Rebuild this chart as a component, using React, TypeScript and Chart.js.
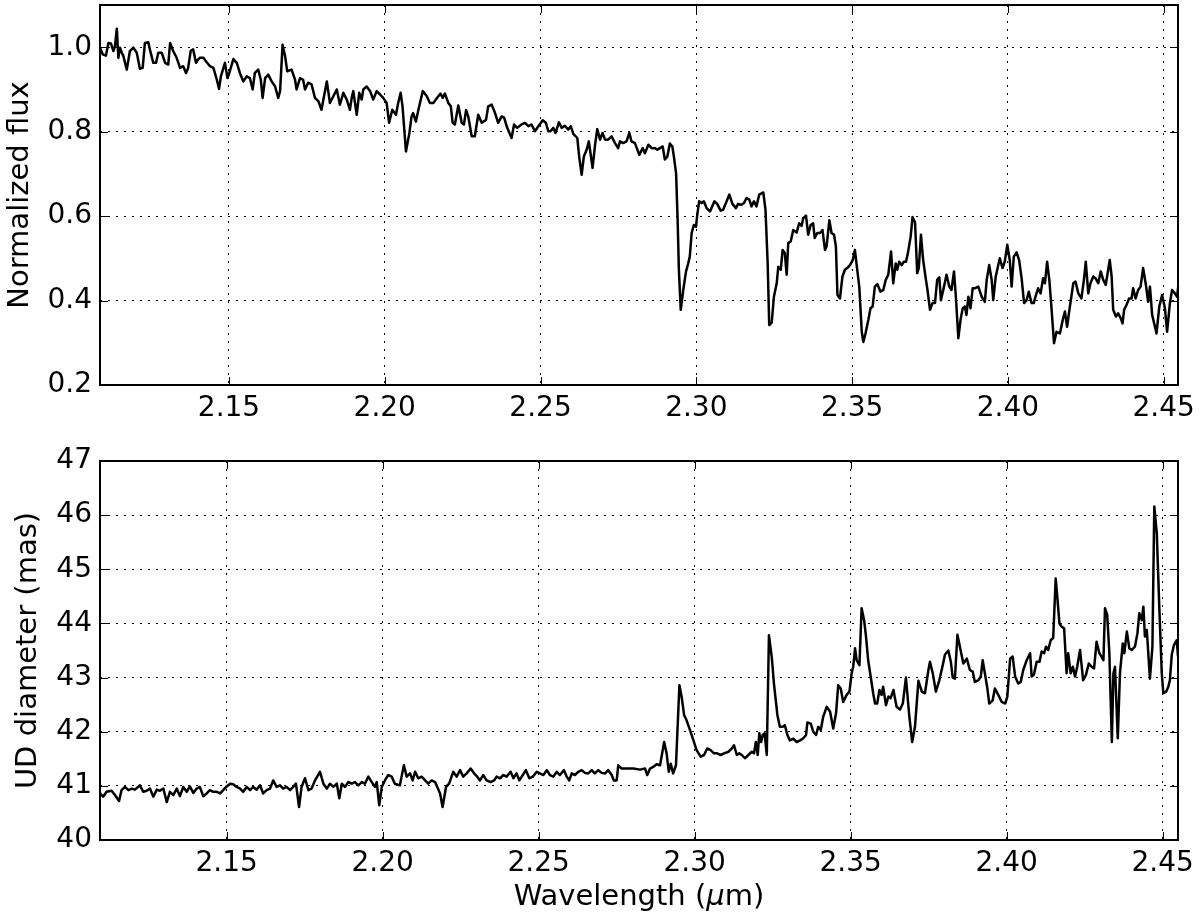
import React, { useEffect, useRef } from "react";
import { Chart, registerables } from "chart.js";

Chart.register(...registerables);

// ---------- data ----------
const TOP_WL = [
  2.1086, 2.1095, 2.1105, 2.1113, 2.1121, 2.1129, 2.1134, 2.1140, 2.1145, 2.1150, 2.1156, 2.1161, 2.1172, 2.1182, 2.1193, 2.1204,
  2.1214, 2.1223, 2.1230, 2.1241, 2.1246, 2.1257, 2.1266, 2.1273, 2.1284, 2.1295, 2.1305, 2.1311, 2.1321, 2.1332, 2.1343, 2.1353,
  2.1362, 2.1369, 2.1377, 2.1385, 2.1394, 2.1401, 2.1407, 2.1418, 2.1426, 2.1439, 2.1450, 2.1461, 2.1468, 2.1474, 2.1487, 2.1495,
  2.1501, 2.1514, 2.1525, 2.1535, 2.1546, 2.1557, 2.1567, 2.1576, 2.1583, 2.1594, 2.1602, 2.1608, 2.1616, 2.1626, 2.1637, 2.1648,
  2.1658, 2.1664, 2.1672, 2.1680, 2.1687, 2.1701, 2.1712, 2.1717, 2.1728, 2.1738, 2.1744, 2.1754, 2.1765, 2.1776, 2.1787, 2.1797,
  2.1805, 2.1814, 2.1824, 2.1835, 2.1846, 2.1856, 2.1867, 2.1878, 2.1888, 2.1894, 2.1899, 2.1910, 2.1918, 2.1926, 2.1931, 2.1942,
  2.1953, 2.1963, 2.1974, 2.1985, 2.1995, 2.2006, 2.2014, 2.2024, 2.2036, 2.2043, 2.2051, 2.2057, 2.2068, 2.2079, 2.2086, 2.2091,
  2.2100, 2.2108, 2.2122, 2.2134, 2.2145, 2.2156, 2.2164, 2.2172, 2.2179, 2.2186, 2.2193, 2.2204, 2.2212, 2.2218, 2.2225, 2.2236,
  2.2247, 2.2254, 2.2261, 2.2268, 2.2279, 2.2289, 2.2300, 2.2311, 2.2325, 2.2332, 2.2343, 2.2354, 2.2364, 2.2375, 2.2383, 2.2393,
  2.2407, 2.2415, 2.2425, 2.2439, 2.2450, 2.2461, 2.2471, 2.2482, 2.2493, 2.2507, 2.2517, 2.2525, 2.2532, 2.2541, 2.2548, 2.2559,
  2.2568, 2.2578, 2.2589, 2.2597, 2.2605, 2.2618, 2.2624, 2.2632, 2.2639, 2.2648, 2.2655, 2.2667, 2.2675, 2.2682, 2.2691, 2.2699,
  2.2707, 2.2717, 2.2728, 2.2739, 2.2749, 2.2755, 2.2765, 2.2776, 2.2785, 2.2792, 2.2803, 2.2817, 2.2828, 2.2835, 2.2846, 2.2857,
  2.2867, 2.2875, 2.2883, 2.2892, 2.2899, 2.2907, 2.2915, 2.2923, 2.2928, 2.2935, 2.2940, 2.2944, 2.2950, 2.2958, 2.2967, 2.2974,
  2.2979, 2.2985, 2.2992, 2.2999, 2.3003, 2.3009, 2.3017, 2.3024, 2.3033, 2.3044, 2.3058, 2.3067, 2.3078, 2.3086, 2.3095, 2.3106,
  2.3116, 2.3127, 2.3134, 2.3145, 2.3153, 2.3161, 2.3170, 2.3177, 2.3185, 2.3193, 2.3202, 2.3215, 2.3222, 2.3229, 2.3234, 2.3242,
  2.3249, 2.3258, 2.3263, 2.3271, 2.3277, 2.3284, 2.3290, 2.3295, 2.3303, 2.3311, 2.3322, 2.3330, 2.3338, 2.3343, 2.3352, 2.3359,
  2.3367, 2.3375, 2.3380, 2.3388, 2.3397, 2.3405, 2.3413, 2.3418, 2.3427, 2.3434, 2.3442, 2.3448, 2.3453, 2.3461, 2.3469, 2.3477,
  2.3484, 2.3493, 2.3502, 2.3509, 2.3514, 2.3523, 2.3531, 2.3536, 2.3543, 2.3552, 2.3559, 2.3566, 2.3573, 2.3581, 2.3591, 2.3600,
  2.3608, 2.3616, 2.3625, 2.3632, 2.3640, 2.3645, 2.3651, 2.3659, 2.3666, 2.3673, 2.3680, 2.3688, 2.3694, 2.3702, 2.3709, 2.3714,
  2.3721, 2.3728, 2.3737, 2.3742, 2.3750, 2.3758, 2.3766, 2.3773, 2.3780, 2.3785, 2.3795, 2.3803, 2.3812, 2.3819, 2.3827, 2.3833,
  2.3841, 2.3848, 2.3855, 2.3862, 2.3867, 2.3873, 2.3880, 2.3887, 2.3894, 2.3905, 2.3916, 2.3926, 2.3932, 2.3940, 2.3948, 2.3953,
  2.3961, 2.3967, 2.3974, 2.3983, 2.3990, 2.3998, 2.4006, 2.4012, 2.4019, 2.4028, 2.4036, 2.4044, 2.4052, 2.4060, 2.4067, 2.4076,
  2.4083, 2.4090, 2.4097, 2.4105, 2.4113, 2.4119, 2.4126, 2.4133, 2.4140, 2.4148, 2.4156, 2.4167, 2.4176, 2.4183, 2.4190, 2.4199,
  2.4210, 2.4217, 2.4226, 2.4236, 2.4244, 2.4250, 2.4258, 2.4265, 2.4274, 2.4281, 2.4290, 2.4298, 2.4306, 2.4314, 2.4327, 2.4333,
  2.4338, 2.4347, 2.4354, 2.4362, 2.4368, 2.4373, 2.4381, 2.4389, 2.4397, 2.4402, 2.4410, 2.4418, 2.4426, 2.4434, 2.4443, 2.4450,
  2.4456, 2.4463, 2.4472, 2.4477, 2.4486, 2.4495, 2.4504, 2.4511, 2.4520, 2.4527, 2.4536, 2.4543, 2.4548,
];

const TOP_FLUX = [
  0.999, 0.983, 0.980, 1.010, 1.009, 0.991, 1.002, 1.044, 0.975, 0.999, 0.987, 0.979, 0.947, 0.991, 0.999, 0.987,
  0.949, 0.951, 1.010, 1.012, 0.995, 0.963, 0.963, 0.987, 0.987, 0.963, 0.959, 1.010, 0.991, 0.975, 0.951, 0.955,
  0.939, 0.951, 0.991, 0.995, 0.963, 0.971, 0.975, 0.975, 0.967, 0.955, 0.951, 0.923, 0.901, 0.931, 0.963, 0.927,
  0.939, 0.972, 0.963, 0.939, 0.919, 0.931, 0.927, 0.900, 0.939, 0.947, 0.923, 0.880, 0.927, 0.935, 0.919, 0.907,
  0.880, 0.896, 1.006, 0.979, 0.943, 0.947, 0.923, 0.900, 0.927, 0.923, 0.900, 0.916, 0.912, 0.880, 0.872, 0.852,
  0.884, 0.919, 0.868, 0.884, 0.900, 0.864, 0.892, 0.876, 0.852, 0.880, 0.896, 0.840, 0.892, 0.876, 0.900, 0.907,
  0.896, 0.876, 0.896, 0.888, 0.880, 0.868, 0.821, 0.852, 0.840, 0.868, 0.892, 0.860, 0.753, 0.797, 0.836, 0.844,
  0.824, 0.852, 0.896, 0.885, 0.868, 0.868, 0.876, 0.884, 0.890, 0.880, 0.890, 0.868, 0.860, 0.821, 0.817, 0.862,
  0.821, 0.817, 0.851, 0.836, 0.789, 0.789, 0.840, 0.821, 0.828, 0.860, 0.864, 0.844, 0.821, 0.836, 0.833, 0.809,
  0.785, 0.817, 0.809, 0.817, 0.821, 0.813, 0.817, 0.801, 0.813, 0.827, 0.821, 0.801, 0.801, 0.809, 0.797, 0.822,
  0.809, 0.814, 0.805, 0.813, 0.795, 0.785, 0.741, 0.698, 0.741, 0.757, 0.777, 0.714, 0.769, 0.806, 0.781, 0.797,
  0.781, 0.781, 0.789, 0.773, 0.761, 0.777, 0.773, 0.777, 0.797, 0.777, 0.773, 0.745, 0.761, 0.749, 0.769, 0.761,
  0.761, 0.757, 0.761, 0.765, 0.734, 0.741, 0.772, 0.765, 0.741, 0.702, 0.591, 0.473, 0.378, 0.425, 0.469, 0.488,
  0.504, 0.560, 0.579, 0.575, 0.603, 0.635, 0.631, 0.635, 0.619, 0.611, 0.635, 0.629, 0.613, 0.615, 0.631, 0.651,
  0.629, 0.619, 0.629, 0.627, 0.631, 0.643, 0.639, 0.623, 0.635, 0.623, 0.651, 0.656, 0.615, 0.488, 0.342, 0.348,
  0.409, 0.441, 0.480, 0.473, 0.520, 0.512, 0.461, 0.536, 0.540, 0.567, 0.561, 0.583, 0.577, 0.595, 0.601, 0.556,
  0.579, 0.583, 0.548, 0.560, 0.560, 0.567, 0.520, 0.528, 0.590, 0.560, 0.556, 0.528, 0.413, 0.405, 0.457, 0.473,
  0.477, 0.484, 0.496, 0.520, 0.488, 0.433, 0.326, 0.302, 0.322, 0.354, 0.382, 0.386, 0.433, 0.439, 0.421, 0.425,
  0.449, 0.461, 0.516, 0.441, 0.488, 0.473, 0.492, 0.484, 0.492, 0.492, 0.516, 0.552, 0.598, 0.585, 0.465, 0.477,
  0.556, 0.496, 0.449, 0.425, 0.378, 0.394, 0.394, 0.449, 0.455, 0.401, 0.433, 0.461, 0.433, 0.425, 0.469, 0.409,
  0.311, 0.354, 0.382, 0.386, 0.366, 0.409, 0.382, 0.429, 0.429, 0.433, 0.409, 0.397, 0.449, 0.484, 0.449, 0.401,
  0.457, 0.477, 0.500, 0.477, 0.492, 0.532, 0.496, 0.433, 0.504, 0.514, 0.496, 0.453, 0.394, 0.401, 0.421, 0.394,
  0.394, 0.413, 0.429, 0.417, 0.453, 0.441, 0.492, 0.449, 0.382, 0.299, 0.326, 0.322, 0.354, 0.374, 0.338, 0.386,
  0.441, 0.445, 0.417, 0.405, 0.449, 0.492, 0.417, 0.441, 0.457, 0.453, 0.441, 0.469, 0.449, 0.437, 0.496, 0.457,
  0.378, 0.362, 0.370, 0.358, 0.346, 0.378, 0.390, 0.405, 0.405, 0.429, 0.405, 0.425, 0.433, 0.477, 0.437, 0.397,
  0.433, 0.366, 0.338, 0.322, 0.386, 0.413, 0.382, 0.326, 0.394, 0.425, 0.417, 0.409, 0.441,
];

const BOT_WL = [
  2.1094, 2.1104, 2.1115, 2.1131, 2.1142, 2.1155, 2.1163, 2.1174, 2.1185, 2.1196, 2.1206, 2.1222, 2.1233, 2.1244, 2.1254, 2.1265,
  2.1276, 2.1286, 2.1297, 2.1308, 2.1318, 2.1329, 2.1340, 2.1350, 2.1361, 2.1372, 2.1382, 2.1393, 2.1404, 2.1414, 2.1425, 2.1436,
  2.1446, 2.1457, 2.1468, 2.1479, 2.1489, 2.1500, 2.1511, 2.1521, 2.1532, 2.1543, 2.1553, 2.1564, 2.1575, 2.1585, 2.1596, 2.1607,
  2.1617, 2.1628, 2.1639, 2.1649, 2.1660, 2.1671, 2.1681, 2.1692, 2.1703, 2.1713, 2.1722, 2.1732, 2.1740, 2.1751, 2.1762, 2.1772,
  2.1783, 2.1799, 2.1810, 2.1821, 2.1831, 2.1842, 2.1853, 2.1861, 2.1869, 2.1879, 2.1890, 2.1901, 2.1911, 2.1922, 2.1933, 2.1943,
  2.1954, 2.1965, 2.1975, 2.1981, 2.1989, 2.1997, 2.2007, 2.2018, 2.2029, 2.2039, 2.2055, 2.2068, 2.2077, 2.2088, 2.2096, 2.2104,
  2.2114, 2.2125, 2.2136, 2.2146, 2.2157, 2.2168, 2.2175, 2.2184, 2.2192, 2.2203, 2.2213, 2.2226, 2.2237, 2.2248, 2.2258, 2.2269,
  2.2282, 2.2293, 2.2303, 2.2312, 2.2322, 2.2333, 2.2346, 2.2357, 2.2365, 2.2376, 2.2387, 2.2397, 2.2410, 2.2419, 2.2429, 2.2438,
  2.2449, 2.2459, 2.2470, 2.2481, 2.2494, 2.2504, 2.2515, 2.2526, 2.2536, 2.2547, 2.2558, 2.2568, 2.2581, 2.2590, 2.2598, 2.2606,
  2.2616, 2.2627, 2.2638, 2.2648, 2.2659, 2.2670, 2.2680, 2.2691, 2.2702, 2.2713, 2.2723, 2.2734, 2.2741, 2.2750, 2.2755, 2.2766,
  2.2782, 2.2803, 2.2825, 2.2841, 2.2848, 2.2857, 2.2867, 2.2878, 2.2889, 2.2902, 2.2910, 2.2917, 2.2923, 2.2931, 2.2940, 2.2951,
  2.2958, 2.2966, 2.2974, 2.2985, 2.2996, 2.3006, 2.3019, 2.3030, 2.3040, 2.3051, 2.3062, 2.3072, 2.3083, 2.3094, 2.3108, 2.3119,
  2.3126, 2.3135, 2.3143, 2.3151, 2.3161, 2.3172, 2.3183, 2.3190, 2.3196, 2.3202, 2.3207, 2.3213, 2.3218, 2.3224, 2.3231, 2.3238,
  2.3247, 2.3254, 2.3265, 2.3273, 2.3282, 2.3289, 2.3297, 2.3305, 2.3316, 2.3327, 2.3338, 2.3348, 2.3357, 2.3361, 2.3372, 2.3380,
  2.3389, 2.3396, 2.3404, 2.3412, 2.3423, 2.3434, 2.3444, 2.3453, 2.3460, 2.3468, 2.3476, 2.3487, 2.3496, 2.3503, 2.3508, 2.3514,
  2.3519, 2.3528, 2.3535, 2.3543, 2.3549, 2.3556, 2.3564, 2.3572, 2.3578, 2.3585, 2.3592, 2.3599, 2.3604, 2.3613, 2.3621, 2.3628,
  2.3637, 2.3647, 2.3658, 2.3667, 2.3677, 2.3688, 2.3697, 2.3706, 2.3717, 2.3728, 2.3738, 2.3749, 2.3754, 2.3763, 2.3773, 2.3784,
  2.3795, 2.3802, 2.3813, 2.3821, 2.3827, 2.3834, 2.3842, 2.3850, 2.3861, 2.3872, 2.3882, 2.3891, 2.3898, 2.3909, 2.3917, 2.3923,
  2.3930, 2.3938, 2.3944, 2.3955, 2.3962, 2.3973, 2.3984, 2.3995, 2.4002, 2.4011, 2.4019, 2.4027, 2.4037, 2.4045, 2.4053, 2.4064,
  2.4075, 2.4080, 2.4087, 2.4096, 2.4105, 2.4112, 2.4120, 2.4126, 2.4133, 2.4141, 2.4149, 2.4157, 2.4162, 2.4169, 2.4176, 2.4184,
  2.4192, 2.4197, 2.4205, 2.4212, 2.4219, 2.4226, 2.4235, 2.4245, 2.4254, 2.4263, 2.4272, 2.4280, 2.4288, 2.4297, 2.4310, 2.4315,
  2.4322, 2.4329, 2.4337, 2.4342, 2.4347, 2.4356, 2.4363, 2.4372, 2.4377, 2.4385, 2.4393, 2.4401, 2.4411, 2.4419, 2.4425, 2.4433,
  2.4438, 2.4443, 2.4449, 2.4459, 2.4467, 2.4473, 2.4481, 2.4489, 2.4497, 2.4502, 2.4511, 2.4518, 2.4523, 2.4529, 2.4536, 2.4545,
  2.4549,
];

const BOT_DIAM = [
  40.86, 40.80, 40.89, 40.91, 40.83, 40.72, 40.92, 40.98, 40.92, 40.95, 40.93, 41.01, 40.89, 40.91, 40.95, 40.80,
  40.93, 40.91, 40.95, 40.70, 40.89, 40.83, 40.95, 40.81, 40.98, 40.89, 40.99, 40.87, 40.95, 40.98, 40.81, 40.86,
  40.92, 40.89, 40.89, 40.86, 40.92, 40.99, 41.04, 41.03, 40.98, 40.95, 40.89, 40.98, 40.92, 40.98, 40.93, 41.01,
  40.86, 40.92, 40.95, 41.10, 40.98, 41.01, 40.95, 40.98, 40.92, 40.98, 41.04, 40.61, 40.98, 41.14, 40.92, 40.95,
  41.10, 41.26, 41.04, 40.95, 41.04, 40.98, 41.04, 40.77, 41.04, 40.98, 41.07, 41.04, 41.07, 41.01, 41.07, 41.04,
  41.17, 41.07, 40.98, 41.07, 40.64, 40.98, 41.10, 41.20, 41.17, 41.04, 41.01, 41.38, 41.17, 41.23, 41.10, 41.26,
  41.14, 41.17, 41.10, 41.04, 41.10, 41.07, 40.98, 40.86, 40.61, 40.98, 41.04, 41.26, 41.17, 41.29, 41.17, 41.23,
  41.32, 41.23, 41.17, 41.10, 41.20, 41.10, 41.07, 41.10, 41.17, 41.14, 41.20, 41.17, 41.26, 41.14, 41.23, 41.10,
  41.20, 41.29, 41.14, 41.17, 41.26, 41.23, 41.20, 41.29, 41.20, 41.17, 41.26, 41.20, 41.29, 41.17, 41.10, 41.23,
  41.20, 41.26, 41.29, 41.24, 41.23, 41.29, 41.23, 41.29, 41.24, 41.23, 41.29, 41.20, 41.10, 41.10, 41.38, 41.32,
  41.32, 41.32, 41.30, 41.32, 41.20, 41.32, 41.35, 41.40, 41.38, 41.81, 41.60, 41.26, 41.41, 41.23, 41.38, 42.86,
  42.65, 42.31, 42.21, 42.03, 41.84, 41.66, 41.54, 41.57, 41.69, 41.66, 41.60, 41.60, 41.57, 41.60, 41.63, 41.69,
  41.75, 41.57, 41.60, 41.57, 41.51, 41.57, 41.63, 41.60, 41.81, 41.57, 41.97, 41.81, 41.94, 41.97, 41.57, 43.78,
  43.38, 42.89, 42.31, 42.09, 42.09, 42.12, 41.94, 41.84, 41.87, 41.81, 41.84, 41.88, 41.94, 42.17, 42.15, 42.00,
  41.94, 42.09, 42.03, 42.28, 42.46, 42.37, 42.06, 42.34, 42.86, 42.80, 42.55, 42.68, 42.74, 43.08, 43.20, 43.54,
  43.32, 43.23, 44.28, 44.06, 43.76, 43.32, 43.02, 42.71, 42.52, 42.52, 42.77, 42.68, 42.83, 42.49, 42.65, 42.62,
  42.77, 42.46, 42.41, 42.52, 43.00, 42.28, 41.81, 42.09, 42.94, 42.74, 42.71, 43.14, 43.29, 43.08, 42.74, 42.95,
  43.23, 43.42, 43.50, 43.29, 43.00, 42.98, 43.79, 43.57, 43.26, 43.35, 43.14, 43.11, 42.92, 42.95, 43.02, 43.32,
  43.08, 42.80, 42.52, 42.58, 42.80, 42.68, 42.55, 42.52, 42.65, 43.35, 43.39, 43.02, 42.89, 42.92, 43.14, 43.32,
  43.45, 43.02, 43.05, 43.29, 43.29, 43.48, 43.45, 43.57, 43.51, 43.69, 43.73, 44.83, 44.50, 44.00, 43.94, 43.91,
  43.08, 43.45, 43.08, 43.20, 43.02, 43.20, 43.51, 42.95, 43.05, 43.26, 43.20, 43.17, 43.66, 43.45, 43.32, 44.28,
  44.16, 43.45, 41.81, 43.08, 43.20, 41.88, 43.08, 43.63, 43.45, 43.85, 43.54, 43.51, 43.57, 43.82, 44.19, 44.06,
  44.31, 43.76, 43.88, 42.98, 43.57, 46.16, 45.67, 44.31, 43.08, 42.71, 42.74, 42.83, 42.95, 43.42, 43.60, 43.69,
  43.39,
];

const X_TICKS = [2.15, 2.2, 2.25, 2.3, 2.35, 2.4, 2.45];
const TOP_Y_TICKS = [0.2, 0.4, 0.6, 0.8, 1.0];
const BOT_Y_TICKS = [40, 41, 42, 43, 44, 45, 46, 47];
const TOP_X_RANGE = [2.1086, 2.4546];
const BOT_X_RANGE = [2.1094, 2.4549];
const TOP_Y_RANGE = [0.2, 1.1];
const BOT_Y_RANGE = [40, 47];
const TOP_Y_LABEL = "Normalized flux";
const BOT_Y_LABEL = "UD diameter (mas)";
const X_LABEL_PARTS = ["Wavelength (", "\u03bc", "m)"];

// ---------- styling ----------
const FONT = '"DejaVu Sans", "Liberation Sans", sans-serif';
const TICK_SIZE = 28;
const TITLE_SIZE = 29;

const framePlugin = {
  id: "mplFrame",
  afterDatasetsDraw(chart: any) {
    const { ctx, chartArea: a, scales } = chart;
    ctx.save();
    ctx.strokeStyle = "#000";
    ctx.lineWidth = 1;
    ctx.setLineDash([]);
    const tl = 8;
    for (const t of scales.x.ticks) {
      const px = Math.round(scales.x.getPixelForValue(t.value)) + 0.5;
      ctx.beginPath();
      ctx.moveTo(px, a.top);
      ctx.lineTo(px, a.top + tl);
      ctx.moveTo(px, a.bottom);
      ctx.lineTo(px, a.bottom - tl);
      ctx.stroke();
    }
    for (const t of scales.y.ticks) {
      const py = Math.round(scales.y.getPixelForValue(t.value)) + 0.5;
      ctx.beginPath();
      ctx.moveTo(a.left, py);
      ctx.lineTo(a.left + tl, py);
      ctx.moveTo(a.right, py);
      ctx.lineTo(a.right - tl, py);
      ctx.stroke();
    }
    ctx.lineWidth = 2;
    ctx.strokeRect(a.left, a.top, a.right - a.left, a.bottom - a.top);
    ctx.restore();
  },
};

const xTitlePlugin = {
  id: "xTitleMixed",
  afterDraw(chart: any) {
    const { ctx, chartArea: a } = chart;
    ctx.save();
    ctx.fillStyle = "#000";
    ctx.textBaseline = "alphabetic";
    ctx.textAlign = "left";
    const fonts = X_LABEL_PARTS.map((_, i) =>
      i === 1 ? `italic ${TITLE_SIZE}px ${FONT}` : `${TITLE_SIZE}px ${FONT}`
    );
    const widths = X_LABEL_PARTS.map((p, i) => {
      ctx.font = fonts[i];
      return ctx.measureText(p).width;
    });
    const total = widths.reduce((s, w) => s + w, 0);
    let x = (a.left + a.right) / 2 - total / 2;
    const y = a.bottom + 65;
    X_LABEL_PARTS.forEach((p, i) => {
      ctx.font = fonts[i];
      ctx.fillText(p, x, y);
      x += widths[i];
    });
    ctx.restore();
  },
};

function makeConfig(p: {
  xs: number[];
  ys: number[];
  xRange: number[];
  yRange: number[];
  yTicks: number[];
  yFmt: (v: number) => string;
  yLabel: string;
  yTitlePad: number;
  padTop: number;
  xHeight: number;
  extraPlugins: any[];
}) {
  return {
    type: "line" as const,
    data: {
      datasets: [
        {
          data: p.xs.map((x, i) => ({ x, y: p.ys[i] })),
          borderColor: "#000",
          borderWidth: 2.5,
          pointRadius: 0,
          tension: 0,
          fill: false,
          borderJoinStyle: "round" as const,
        },
      ],
    },
    options: {
      responsive: false,
      animation: false,
      devicePixelRatio: 1,
      layout: { padding: { left: 0, right: 22, top: p.padTop, bottom: 0 } },
      plugins: { legend: { display: false }, tooltip: { enabled: false } },
      scales: {
        x: {
          type: "linear",
          min: p.xRange[0],
          max: p.xRange[1],
          afterBuildTicks: (s: any) => {
            s.ticks = X_TICKS.map((v) => ({ value: v }));
          },
          afterFit: (s: any) => {
            s.height = p.xHeight;
            s.paddingLeft = 0;
            s.paddingRight = 0;
          },
          grid: { color: "#000", lineWidth: 1, drawTicks: false },
          border: { display: false, dash: [2, 6] },
          ticks: {
            autoSkip: false,
            maxRotation: 0,
            padding: 7,
            color: "#000",
            font: { family: FONT, size: TICK_SIZE },
            callback: (v: any) => Number(v).toFixed(2),
          },
        },
        y: {
          type: "linear",
          min: p.yRange[0],
          max: p.yRange[1],
          afterBuildTicks: (s: any) => {
            s.ticks = p.yTicks.map((v) => ({ value: v }));
          },
          afterFit: (s: any) => {
            s.width = 100;
            s.paddingTop = 0;
            s.paddingBottom = 0;
          },
          grid: { color: "#000", lineWidth: 1, drawTicks: false },
          border: { display: false, dash: [2, 6] },
          ticks: {
            padding: 8,
            color: "#000",
            font: { family: FONT, size: TICK_SIZE },
            callback: (v: any) => p.yFmt(Number(v)),
          },
          title: {
            display: true,
            text: p.yLabel,
            color: "#000",
            font: { family: FONT, size: TITLE_SIZE },
            padding: { top: p.yTitlePad, bottom: 0 },
          },
        },
      },
    },
    plugins: [framePlugin, ...p.extraPlugins],
  };
}

export default function App() {
  const topRef = useRef<HTMLCanvasElement>(null);
  const botRef = useRef<HTMLCanvasElement>(null);

  useEffect(() => {
    const top = new Chart(
      topRef.current as HTMLCanvasElement,
      makeConfig({
        xs: TOP_WL,
        ys: TOP_FLUX,
        xRange: TOP_X_RANGE,
        yRange: TOP_Y_RANGE,
        yTicks: TOP_Y_TICKS,
        yFmt: (v) => v.toFixed(1),
        yLabel: TOP_Y_LABEL,
        yTitlePad: 3,
        padTop: 5,
        xHeight: 55,
        extraPlugins: [],
      }) as any
    );
    const bot = new Chart(
      botRef.current as HTMLCanvasElement,
      makeConfig({
        xs: BOT_WL,
        ys: BOT_DIAM,
        xRange: BOT_X_RANGE,
        yRange: BOT_Y_RANGE,
        yTicks: BOT_Y_TICKS,
        yFmt: (v) => String(Math.round(v)),
        yLabel: BOT_Y_LABEL,
        yTitlePad: 11,
        padTop: 21,
        xHeight: 83,
        extraPlugins: [xTitlePlugin],
      }) as any
    );
    return () => {
      top.destroy();
      bot.destroy();
    };
  }, []);

  return (
    <div style={{ position: "absolute", left: 0, top: 0, width: 1200, height: 923, background: "#fff" }}>
      <canvas
        ref={topRef}
        width={1200}
        height={440}
        style={{ position: "absolute", left: 0, top: 0, width: 1200, height: 440 }}
      />
      <canvas
        ref={botRef}
        width={1200}
        height={483}
        style={{ position: "absolute", left: 0, top: 440, width: 1200, height: 483 }}
      />
    </div>
  );
}
